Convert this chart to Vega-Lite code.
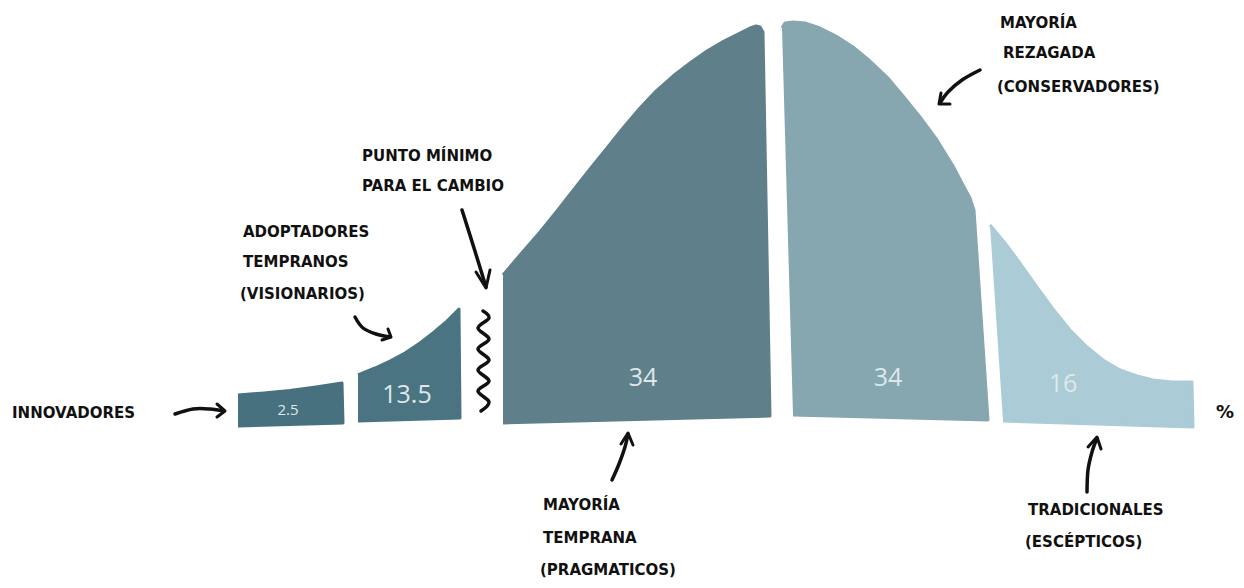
{
  "$schema": "https://vega.github.io/schema/vega-lite/v6.json",
  "width": 1244,
  "height": 588,
  "padding": 0,
  "autosize": {"type": "fit", "contains": "padding"},
  "background": "#ffffff",
  "config": {"view": {"stroke": null}},
  "datasets": {
    "shapes": [
      {"seg": "Innovadores", "i": 1, "x": 238, "y": 25},
      {"seg": "Innovadores", "i": 2, "x": 264, "y": 27},
      {"seg": "Innovadores", "i": 3, "x": 290, "y": 29.5},
      {"seg": "Innovadores", "i": 4, "x": 316, "y": 33},
      {"seg": "Innovadores", "i": 5, "x": 342, "y": 37},
      {"seg": "Innovadores", "i": 6, "x": 343, "y": -3},
      {"seg": "Innovadores", "i": 7, "x": 238, "y": -6},
      {"seg": "Adoptadores", "i": 1, "x": 358, "y": 45},
      {"seg": "Adoptadores", "i": 2, "x": 375, "y": 52},
      {"seg": "Adoptadores", "i": 3, "x": 390, "y": 59},
      {"seg": "Adoptadores", "i": 4, "x": 405, "y": 67},
      {"seg": "Adoptadores", "i": 5, "x": 420, "y": 77},
      {"seg": "Adoptadores", "i": 6, "x": 433, "y": 87},
      {"seg": "Adoptadores", "i": 7, "x": 446, "y": 98},
      {"seg": "Adoptadores", "i": 8, "x": 459, "y": 111},
      {"seg": "Adoptadores", "i": 9, "x": 460, "y": 2},
      {"seg": "Adoptadores", "i": 10, "x": 358, "y": -1},
      {"seg": "Temprana", "i": 1, "x": 503, "y": 145},
      {"seg": "Temprana", "i": 2, "x": 520, "y": 165},
      {"seg": "Temprana", "i": 3, "x": 540, "y": 188},
      {"seg": "Temprana", "i": 4, "x": 557, "y": 209},
      {"seg": "Temprana", "i": 5, "x": 575, "y": 232},
      {"seg": "Temprana", "i": 6, "x": 590, "y": 251},
      {"seg": "Temprana", "i": 7, "x": 607, "y": 272},
      {"seg": "Temprana", "i": 8, "x": 623, "y": 292},
      {"seg": "Temprana", "i": 9, "x": 640, "y": 312},
      {"seg": "Temprana", "i": 10, "x": 656, "y": 329},
      {"seg": "Temprana", "i": 11, "x": 673, "y": 344},
      {"seg": "Temprana", "i": 12, "x": 690, "y": 357},
      {"seg": "Temprana", "i": 13, "x": 707, "y": 369},
      {"seg": "Temprana", "i": 14, "x": 724, "y": 379},
      {"seg": "Temprana", "i": 15, "x": 740, "y": 387},
      {"seg": "Temprana", "i": 16, "x": 750, "y": 392},
      {"seg": "Temprana", "i": 17, "x": 756, "y": 394},
      {"seg": "Temprana", "i": 18, "x": 760, "y": 393},
      {"seg": "Temprana", "i": 19, "x": 763, "y": 388},
      {"seg": "Temprana", "i": 20, "x": 770, "y": 4},
      {"seg": "Temprana", "i": 21, "x": 503, "y": -3},
      {"seg": "Rezagada", "i": 1, "x": 782, "y": 392},
      {"seg": "Rezagada", "i": 2, "x": 785, "y": 397},
      {"seg": "Rezagada", "i": 3, "x": 793, "y": 398},
      {"seg": "Rezagada", "i": 4, "x": 805, "y": 397},
      {"seg": "Rezagada", "i": 5, "x": 820, "y": 392},
      {"seg": "Rezagada", "i": 6, "x": 836, "y": 384},
      {"seg": "Rezagada", "i": 7, "x": 853, "y": 373},
      {"seg": "Rezagada", "i": 8, "x": 870, "y": 359},
      {"seg": "Rezagada", "i": 9, "x": 887, "y": 343},
      {"seg": "Rezagada", "i": 10, "x": 903, "y": 324},
      {"seg": "Rezagada", "i": 11, "x": 920, "y": 303},
      {"seg": "Rezagada", "i": 12, "x": 937, "y": 280},
      {"seg": "Rezagada", "i": 13, "x": 953, "y": 254},
      {"seg": "Rezagada", "i": 14, "x": 963, "y": 235},
      {"seg": "Rezagada", "i": 15, "x": 970, "y": 222},
      {"seg": "Rezagada", "i": 16, "x": 974, "y": 210},
      {"seg": "Rezagada", "i": 17, "x": 988, "y": 0},
      {"seg": "Rezagada", "i": 18, "x": 793, "y": 5},
      {"seg": "Tradicionales", "i": 1, "x": 990, "y": 195},
      {"seg": "Tradicionales", "i": 2, "x": 1005, "y": 177},
      {"seg": "Tradicionales", "i": 3, "x": 1020, "y": 157},
      {"seg": "Tradicionales", "i": 4, "x": 1037, "y": 133},
      {"seg": "Tradicionales", "i": 5, "x": 1053, "y": 111},
      {"seg": "Tradicionales", "i": 6, "x": 1070, "y": 90},
      {"seg": "Tradicionales", "i": 7, "x": 1087, "y": 73},
      {"seg": "Tradicionales", "i": 8, "x": 1103, "y": 60},
      {"seg": "Tradicionales", "i": 9, "x": 1120, "y": 50},
      {"seg": "Tradicionales", "i": 10, "x": 1137, "y": 44},
      {"seg": "Tradicionales", "i": 11, "x": 1153, "y": 40},
      {"seg": "Tradicionales", "i": 12, "x": 1172, "y": 38},
      {"seg": "Tradicionales", "i": 13, "x": 1192, "y": 38},
      {"seg": "Tradicionales", "i": 14, "x": 1193, "y": -7},
      {"seg": "Tradicionales", "i": 15, "x": 1003, "y": -1}
    ],
    "curves": [
      {"id": "a1", "i": 1, "x": 175, "y": 6},
      {"id": "a1", "i": 2, "x": 193, "y": 11},
      {"id": "a1", "i": 3, "x": 210, "y": 11},
      {"id": "a1", "i": 4, "x": 224, "y": 9},
      {"id": "a2", "i": 1, "x": 355, "y": 103},
      {"id": "a2", "i": 2, "x": 363, "y": 92},
      {"id": "a2", "i": 3, "x": 376, "y": 86},
      {"id": "a2", "i": 4, "x": 390, "y": 83},
      {"id": "a3", "i": 1, "x": 462, "y": 210},
      {"id": "a3", "i": 2, "x": 474, "y": 172},
      {"id": "a3", "i": 3, "x": 486, "y": 133},
      {"id": "a4", "i": 1, "x": 980, "y": 350},
      {"id": "a4", "i": 2, "x": 962, "y": 340},
      {"id": "a4", "i": 3, "x": 948, "y": 328},
      {"id": "a4", "i": 4, "x": 940, "y": 317},
      {"id": "a5", "i": 1, "x": 612, "y": -60},
      {"id": "a5", "i": 2, "x": 619, "y": -44},
      {"id": "a5", "i": 3, "x": 625, "y": -27},
      {"id": "a5", "i": 4, "x": 628, "y": -14},
      {"id": "a6", "i": 1, "x": 1087, "y": -72},
      {"id": "a6", "i": 2, "x": 1088, "y": -50},
      {"id": "a6", "i": 3, "x": 1092, "y": -32},
      {"id": "a6", "i": 4, "x": 1097, "y": -18},
      {"id": "w", "i": 1, "x": 483, "y": 109},
      {"id": "w", "i": 2, "x": 489, "y": 102},
      {"id": "w", "i": 3, "x": 478, "y": 92},
      {"id": "w", "i": 4, "x": 489, "y": 81},
      {"id": "w", "i": 5, "x": 478, "y": 71},
      {"id": "w", "i": 6, "x": 489, "y": 60},
      {"id": "w", "i": 7, "x": 478, "y": 50},
      {"id": "w", "i": 8, "x": 489, "y": 39},
      {"id": "w", "i": 9, "x": 478, "y": 29},
      {"id": "w", "i": 10, "x": 489, "y": 18},
      {"id": "w", "i": 11, "x": 481, "y": 9}
    ],
    "heads": [
      {"id": "h1", "i": 1, "x": 217, "y": 16},
      {"id": "h1", "i": 2, "x": 225, "y": 9},
      {"id": "h1", "i": 3, "x": 217, "y": 3},
      {"id": "h2", "i": 1, "x": 388, "y": 91},
      {"id": "h2", "i": 2, "x": 391, "y": 83},
      {"id": "h2", "i": 3, "x": 382, "y": 80},
      {"id": "h3", "i": 1, "x": 476, "y": 148},
      {"id": "h3", "i": 2, "x": 486, "y": 132},
      {"id": "h3", "i": 3, "x": 490, "y": 150},
      {"id": "h4", "i": 1, "x": 941, "y": 327},
      {"id": "h4", "i": 2, "x": 939, "y": 316},
      {"id": "h4", "i": 3, "x": 950, "y": 316},
      {"id": "h5", "i": 1, "x": 621, "y": -24},
      {"id": "h5", "i": 2, "x": 628, "y": -13},
      {"id": "h5", "i": 3, "x": 633, "y": -25},
      {"id": "h6", "i": 1, "x": 1088, "y": -27},
      {"id": "h6", "i": 2, "x": 1097, "y": -17},
      {"id": "h6", "i": 3, "x": 1101, "y": -29}
    ],
    "values": [
      {"v": "2.5", "x": 288, "y": 10, "s": 15},
      {"v": "13.5", "x": 407, "y": 25, "s": 25},
      {"v": "34", "x": 643, "y": 42, "s": 25},
      {"v": "34", "x": 888, "y": 42, "s": 25},
      {"v": "16", "x": 1063, "y": 36, "s": 25}
    ],
    "notes": [
      {"t": "INNOVADORES", "x": 12, "y": 7, "s": 15},
      {"t": "ADOPTADORES", "x": 243, "y": 188, "s": 15},
      {"t": "TEMPRANOS", "x": 243, "y": 158, "s": 15},
      {"t": "(VISIONARIOS)", "x": 240, "y": 126, "s": 15},
      {"t": "PUNTO MÍNIMO", "x": 362, "y": 264, "s": 15},
      {"t": "PARA EL CAMBIO", "x": 362, "y": 234, "s": 15},
      {"t": "MAYORÍA", "x": 1000, "y": 397, "s": 15},
      {"t": "REZAGADA", "x": 1003, "y": 367, "s": 15},
      {"t": "(CONSERVADORES)", "x": 997, "y": 333, "s": 15},
      {"t": "MAYORÍA", "x": 543, "y": -85, "s": 15},
      {"t": "TEMPRANA", "x": 543, "y": -118, "s": 15},
      {"t": "(PRAGMATICOS)", "x": 540, "y": -150, "s": 15},
      {"t": "TRADICIONALES", "x": 1028, "y": -90, "s": 15},
      {"t": "(ESCÉPTICOS)", "x": 1025, "y": -122, "s": 15},
      {"t": "%", "x": 1216, "y": 7, "s": 18}
    ]
  },
  "encoding": {
    "x": {"field": "x", "type": "quantitative", "scale": {"domain": [0, 1244], "nice": false, "zero": false}, "axis": null},
    "y": {"field": "y", "type": "quantitative", "scale": {"domain": [-168, 420], "nice": false, "zero": false}, "axis": null}
  },
  "layer": [
    {
      "data": {"name": "shapes"},
      "mark": {"type": "line", "interpolate": "linear", "strokeWidth": 3, "strokeJoin": "round"},
      "encoding": {
        "order": {"field": "i", "type": "quantitative"},
        "detail": {"field": "seg", "type": "nominal"},
        "fill": {"field": "seg", "type": "nominal", "legend": null, "scale": {"domain": ["Innovadores", "Adoptadores", "Temprana", "Rezagada", "Tradicionales"], "range": ["#47717f", "#4a7482", "#5f7f8a", "#86a6b0", "#abcbd6"]}},
        "stroke": {"field": "seg", "type": "nominal", "legend": null, "scale": {"domain": ["Innovadores", "Adoptadores", "Temprana", "Rezagada", "Tradicionales"], "range": ["#47717f", "#4a7482", "#5f7f8a", "#86a6b0", "#abcbd6"]}}
      }
    },
    {
      "data": {"name": "curves"},
      "mark": {"type": "line", "interpolate": "cardinal", "strokeWidth": 3.5, "color": "#111111", "strokeCap": "round"},
      "encoding": {
        "order": {"field": "i", "type": "quantitative"},
        "detail": {"field": "id", "type": "nominal"}
      }
    },
    {
      "data": {"name": "heads"},
      "mark": {"type": "line", "interpolate": "linear", "strokeWidth": 3, "color": "#111111", "strokeCap": "round", "strokeJoin": "round"},
      "encoding": {
        "order": {"field": "i", "type": "quantitative"},
        "detail": {"field": "id", "type": "nominal"}
      }
    },
    {
      "data": {"name": "values"},
      "mark": {"type": "text", "font": "Open Sans", "color": "#dde8eb", "align": "center", "baseline": "middle"},
      "encoding": {
        "text": {"field": "v", "type": "nominal"},
        "size": {"field": "s", "type": "quantitative", "scale": null}
      }
    },
    {
      "data": {"name": "notes"},
      "mark": {"type": "text", "font": "DejaVu Sans", "fontWeight": "bold", "color": "#111111", "align": "left", "baseline": "middle"},
      "encoding": {
        "text": {"field": "t", "type": "nominal"},
        "size": {"field": "s", "type": "quantitative", "scale": null}
      }
    }
  ]
}
